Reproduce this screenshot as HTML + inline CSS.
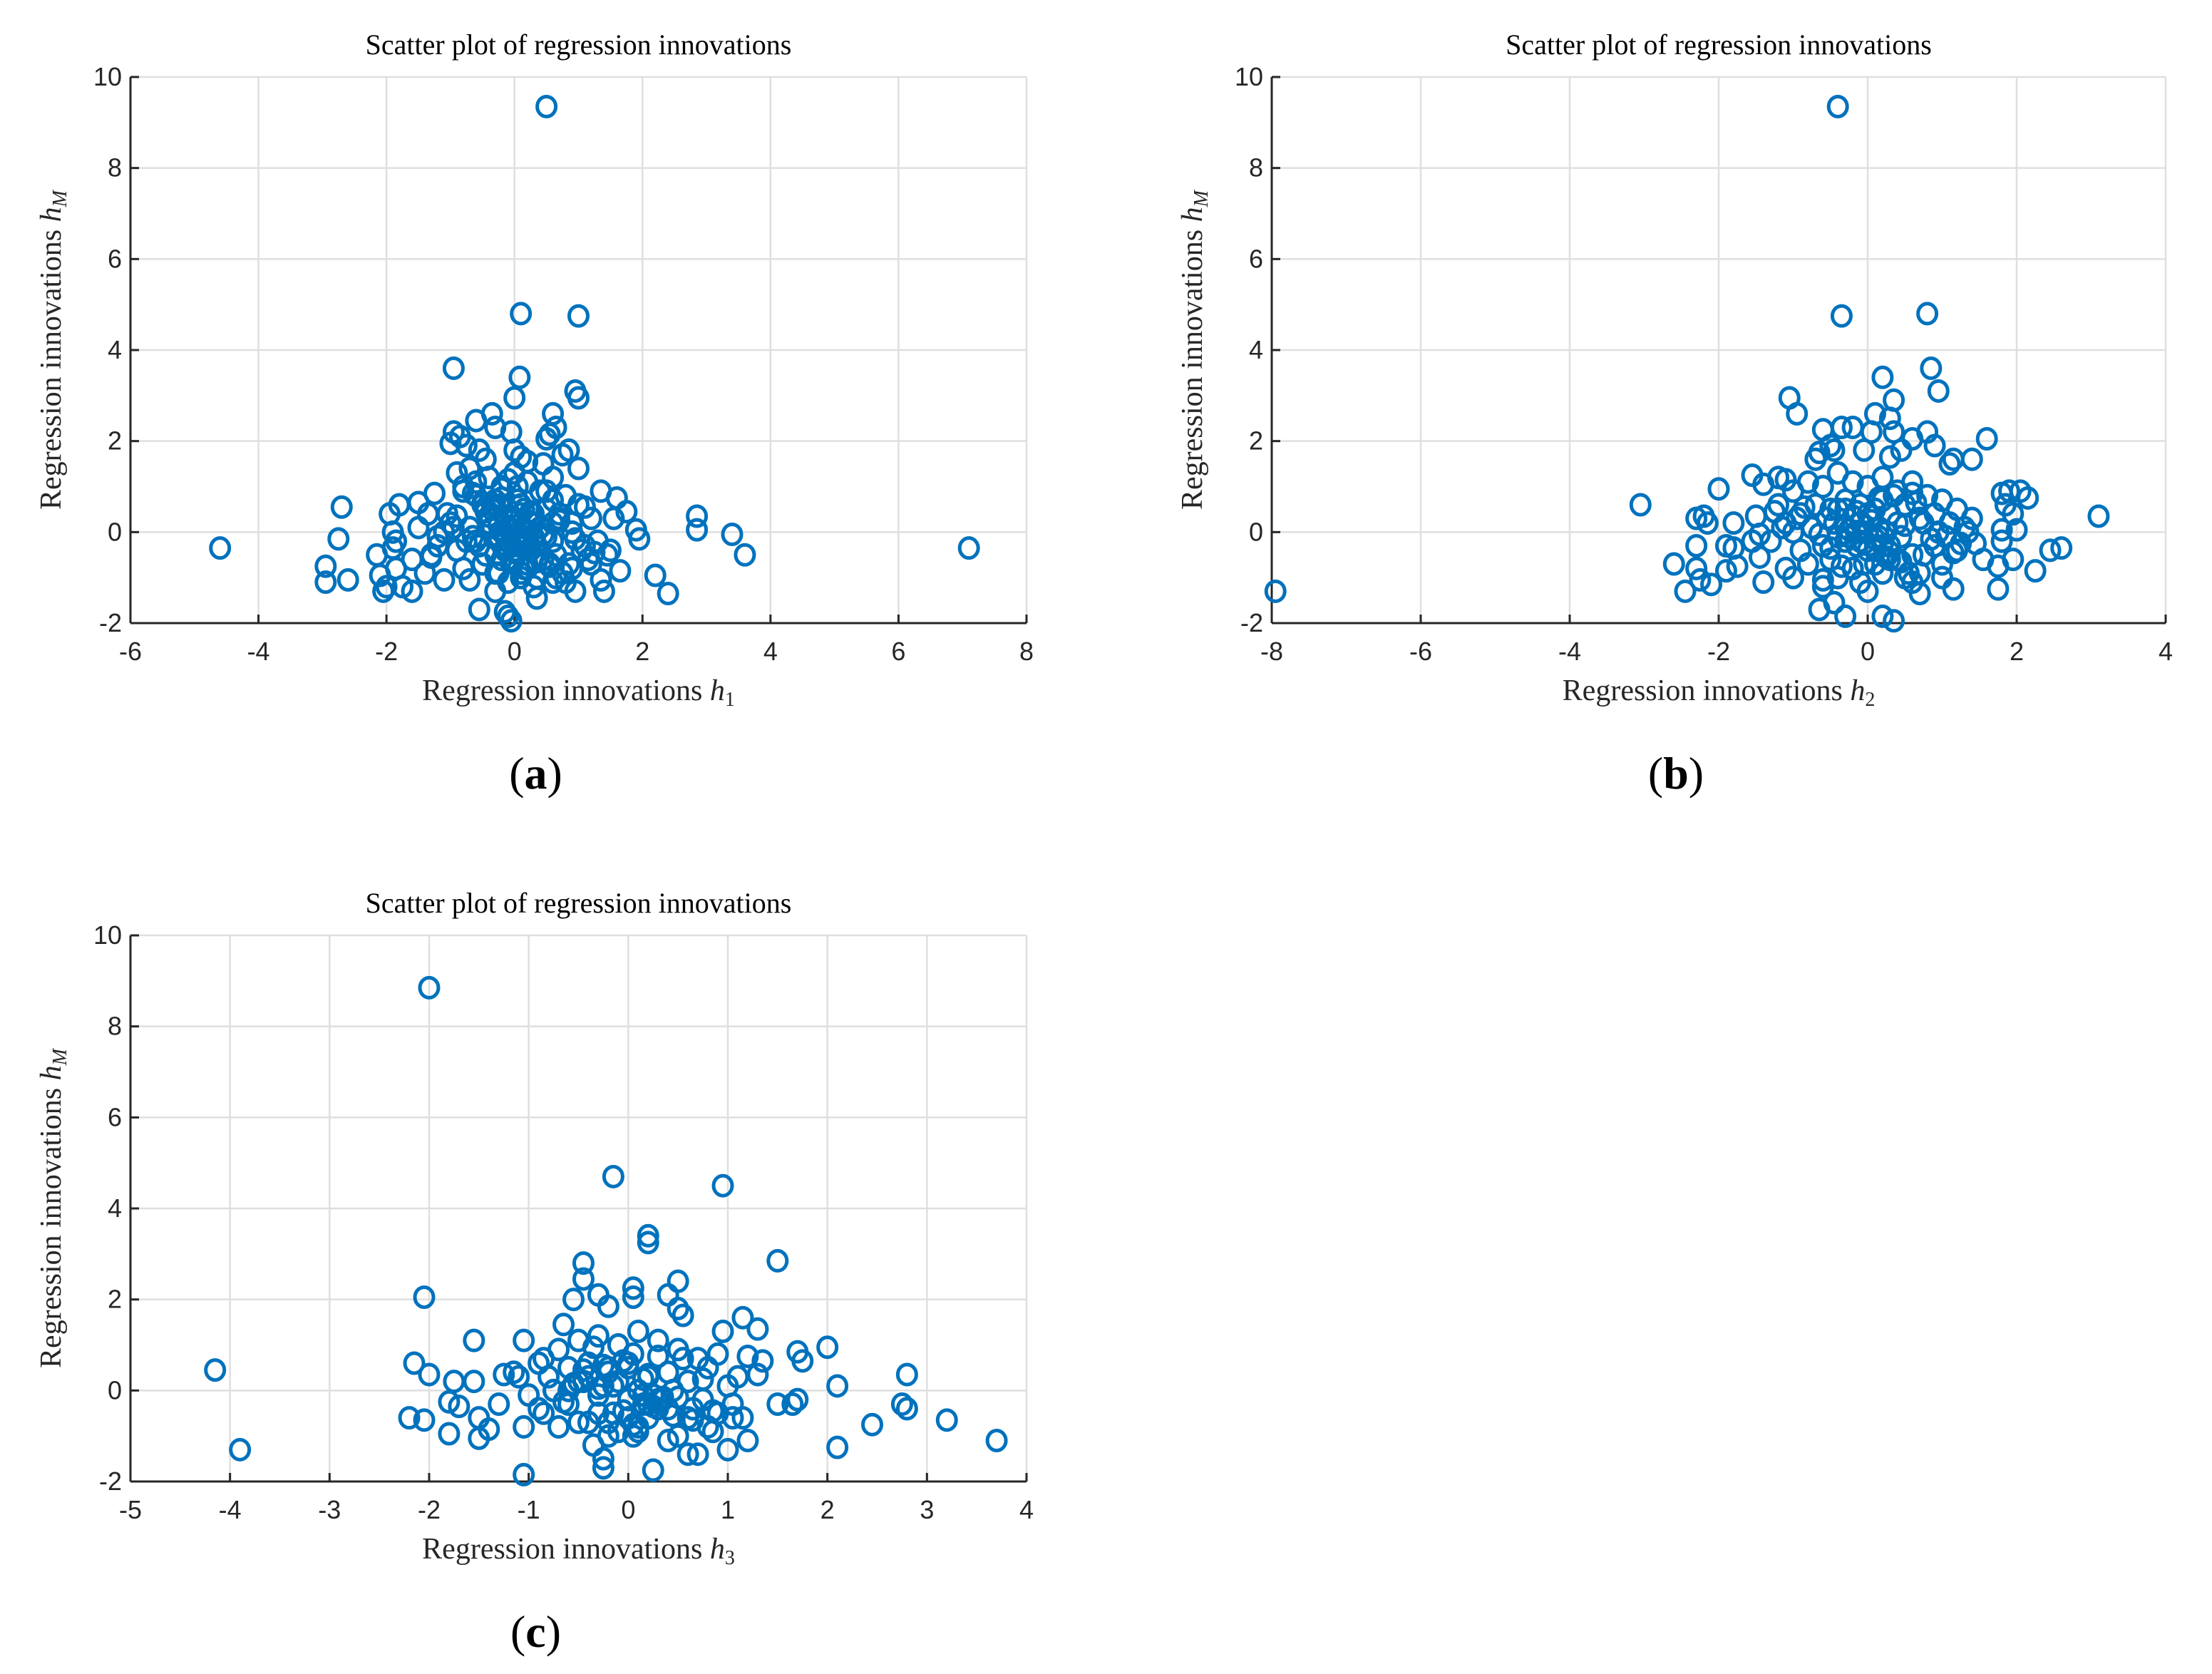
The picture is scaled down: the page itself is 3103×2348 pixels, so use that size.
<!DOCTYPE html>
<html><head><meta charset="utf-8">
<style>
html,body{margin:0;padding:0;background:#fff;}
svg{display:block;}
</style></head>
<body>
<svg id="fig" width="3103" height="2348" viewBox="0 0 3103 2348" xmlns="http://www.w3.org/2000/svg"></svg>
<script>
// ---- data: plot (a) h1 vs hM ----
const aX = [0.5,0.1,1,-0.95,0.08,0,0.95,1,0.6,0.65,0.55,0.5,-0.6,-0.35,-0.3,-0.05,-0.95,-0.85,-1,-0.75,0.85,0.75,-0.55,-0.45,0,0.1,0.2,0.45,1,-0.9,-0.7,1.35,1.6,1.75,1.55,1.9,1.95,1.65,2.2,2.4,2.85,2.85,3.4,3.6,7.1,-4.6,-2.7,-2.75,-2.95,-2.95,-2.6,-2.1,-2.05,-2,-2.15,-1.95,-1.8,-1.9,-1.85,-1.9,-1.85,-1.6,-1.6,-1.75,-1.5,-1.25,-1.35,-1.3,-1.4,-1.1,-0.55,-0.15,-0.05,-0.1,0.35,0.95,1.4,1.35,0.6,-0.3,-0.7,
 -0.8,-0.6,-0.4,-0.2,0,0.2,0.4,0.6,0.8,1.0,1.2,-1.0,-0.5,-0.3,-0.1,0.1,0.3,0.5,0.7,0.9,-0.7,-0.4,-0.2,0,0.2,0.4,0.6,0.9,1.1,1.3,-1.2,-0.9,-0.6,-0.3,0.05,0.25,0.45,0.65,0.85,1.05,-0.8,-0.5,-0.25,-0.05,0.15,0.35,0.55,0.75,1.15,1.45,-1.1,-0.65,-0.35,-0.15,0.1,0.3,0.5,0.7,-0.45,-0.2,0,0.2,0.4,-0.3,-0.1,0.1,0.3,-0.6,0.6,-1.5,1.5,-1.2,1.2,-0.9,0.9,-0.2,0.15,
 -0.1,0.05,0.15,-0.25,0.3,-0.05,0.1,-0.15,0.25,-0.35,0.4,0.0,0.2,-0.2,0.35,-0.4,0.5,-0.1,0.1,0.0,-0.3,0.3,-0.5,0.55,-0.15,0.15,0.05,-0.05,0.45,-0.45,0.65,-0.65,0.25,-0.25,0.0,0.1,-0.1,0.2,-0.2,0.35,-0.35,0.8,-0.8,0.7,-0.75,1.1,-1.05,1.25,-1.3,0.95,-0.95,0.6,-0.55,0.05,-0.05,0.15,-0.15];
const aY = [9.35,4.8,4.75,3.6,3.4,2.95,3.1,2.95,2.6,2.3,2.15,2.05,2.45,2.6,2.3,2.2,2.2,2.1,1.95,1.9,1.8,1.7,1.8,1.6,1.8,1.65,1.55,1.5,1.4,1.3,1.4,0.9,0.75,0.45,0.3,0.05,-0.15,-0.85,-0.95,-1.35,0.35,0.05,-0.05,-0.5,-0.35,-0.35,0.55,-0.15,-0.75,-1.1,-1.05,-0.95,-1.3,-1.2,-0.5,0.4,0.6,0,-0.2,-0.35,-0.8,-0.6,-1.3,-1.2,0.65,0.85,0.4,-0.5,-0.9,-1.05,-1.7,-1.75,-1.95,-1.85,-1.45,-1.3,-1.3,-1.05,-1.1,-1.3,-1.05,
 0.9,1.1,1.2,1.0,1.3,1.1,0.9,1.2,0.8,0.6,0.3,0.2,0.6,0.7,0.5,0.6,0.4,0.5,0.3,0.2,0.1,0.2,0.0,0.3,-0.1,0.1,-0.2,0.0,-0.3,-0.2,-0.3,-0.4,-0.2,-0.5,-0.3,-0.4,-0.6,-0.5,-0.7,-0.4,-0.8,-0.7,-0.9,-0.6,-0.8,-1.0,-0.7,-0.9,-0.6,-0.5,0.0,-0.1,0.1,0.0,-0.2,0.2,-0.1,0.4,-0.5,-0.6,-0.4,-0.7,-0.5,-0.9,-1.1,-1.0,-1.2,0.8,0.7,0.1,-0.4,-0.1,-0.7,0.35,-0.8,0.6,0.5,-0.35,-0.15,
 0.0,0.15,-0.1,0.25,-0.2,-0.35,0.45,0.6,-0.5,0.05,-0.25,0.75,-0.65,0.35,0.9,0.1,-0.9,-0.45,0.55,-0.15,0.65,-0.75,0.15,-0.3,1.0,0.3,-0.05,0.45,-1.0,0.85,0.2,-0.1,-0.6,0.4,1.15,-0.8,0.95,-0.3,0.5,-1.1,1.0,0.25,-0.2,0.55,0.4,-0.45,-0.55,-0.15,0.1,0.2,-0.3,0.7,0.05,-0.25,-0.4];
// ---- data: plot (b) h2 vs hM ----
const bX = [-0.4,-0.35,0.8,0.85,0.95,0.2,0.35,-1.05,-0.95,-0.6,-0.35,-0.2,0.1,0.3,0.35,0.05,0.6,0.8,0.9,1.6,-0.5,-0.45,-0.7,-0.65,-0.05,0.3,0.45,1.15,1.4,1.1,-1.55,-1.4,-1.2,-1.1,-2,-3.05,-7.95,-2.6,-2.3,-2.2,-2.15,-1.8,-2.3,-2.3,-2.25,-2.1,-2.45,-1.9,-1.8,-1.75,-1.9,-1.5,-1.45,-1.55,-1.45,-1.4,-0.65,-0.3,0.2,0.35,-0.45,0.7,1.75,1.15,1.8,1.9,2.05,2.15,1.85,1.95,1.8,1.8,1.95,2,2.25,2.45,2.6,3.1,1.75,1.55,1.45,
 -1.2,-1.0,-0.8,-0.6,-0.4,-0.2,0,0.2,0.4,0.6,0.8,1.0,1.2,1.4,-1.1,-0.9,-0.7,-0.5,-0.3,-0.1,0.1,0.3,0.5,0.7,0.9,1.1,1.3,-1.3,-1.0,-0.75,-0.45,-0.15,0.15,0.45,0.75,1.05,1.35,-0.9,-0.6,-0.3,0,0.3,0.6,0.9,1.2,-1.1,-0.8,-0.5,-0.2,0.1,0.4,0.7,1.0,-0.4,-0.1,0.2,0.5,-0.6,0.0,0.6,-0.25,0.25,-1.0,1.0,
 0.0,0.1,-0.1,0.2,-0.2,0.3,-0.3,0.4,-0.4,0.05,-0.05,0.15,-0.15,0.25,-0.25,0.35,-0.35,0.5,-0.5,0.55,-0.55,0.65,-0.65,0.75,-0.75,0.0,0.1,-0.1,0.2,-0.2,0.45,-0.45,0.85,-0.85,0.95,-0.95,1.15,-1.15,1.25,-1.25,0.3,-0.3,0.6,-0.6,0.05,-0.05,0.15,-0.15,0.4,-0.4];
const bY = [9.35,4.75,4.8,3.6,3.1,3.4,2.9,2.95,2.6,2.25,2.3,2.3,2.6,2.5,2.2,2.2,2.05,2.2,1.9,2.05,1.9,1.8,1.6,1.75,1.8,1.65,1.8,1.6,1.6,1.5,1.25,1.05,1.2,1.15,0.95,0.6,-1.3,-0.7,0.3,0.35,0.2,0.2,-0.3,-0.8,-1.05,-1.15,-1.3,-0.3,-0.35,-0.75,-0.85,0.35,-0.05,-0.2,-0.55,-1.1,-1.7,-1.85,-1.85,-1.95,-1.55,-1.35,-1.25,-1.25,0.85,0.9,0.9,0.75,0.6,0.4,0.05,-0.2,-0.6,0.05,-0.85,-0.4,-0.35,0.35,-0.75,-0.6,-0.25,
 0.6,0.9,1.1,1.0,1.3,1.1,1.0,1.2,0.9,1.1,0.8,0.7,0.5,0.3,0.2,0.4,0.6,0.5,0.7,0.6,0.5,0.4,0.6,0.3,0.4,0.2,0.1,-0.2,0.0,0.1,0.2,0.0,0.1,-0.1,0.2,-0.1,0.0,-0.4,-0.3,-0.2,-0.4,-0.3,-0.5,-0.3,-0.4,-0.8,-0.7,-0.6,-0.8,-0.7,-0.6,-0.9,-0.7,-1.0,-1.1,-0.9,-1.0,-1.2,-1.3,-1.1,-0.1,0.0,-1.0,-1.0,
 0.0,-0.15,0.2,-0.3,0.35,-0.45,0.1,-0.6,0.5,0.25,-0.25,-0.1,0.45,-0.55,0.05,0.8,-0.75,0.15,-0.35,-0.9,0.3,0.65,-0.05,-0.5,0.1,0.4,-0.4,-0.2,0.7,-0.8,-0.65,0.2,-0.15,0.55,0.0,0.3,-0.45,0.1,-0.25,0.45,-0.6,0.5,0.85,-1.05,0.35,-0.7,0.75,-0.3,0.2,-0.1];
// ---- data: plot (c) h3 vs hM ----
const cX = [-2,-0.15,0.95,0.2,0.2,1.5,-0.45,-0.45,0.5,-0.3,0.05,0.05,-2.05,-0.55,-0.2,0.4,0.5,0.55,1.15,1.3,0.95,-0.65,-1.55,-1.05,-4.15,-3.9,-2.15,-2,-2.2,-2.05,-1.8,-1.75,-1.55,-1.7,-1.8,-1.5,-1.5,-1.4,-1.05,0.25,-0.25,-0.25,0.6,0.7,1,1.2,1.05,1.3,1.35,1.2,1.7,1.75,2,2.1,1.5,1.65,1.7,2.1,2.45,2.75,2.8,2.8,3.2,3.7,-1.25,-1.3,-1.05,-1.1,
 -0.9,-0.7,-0.5,-0.3,-0.1,0.1,0.3,0.5,0.7,0.9,1.1,-0.8,-0.6,-0.4,-0.2,0,0.2,0.4,0.6,0.8,1.0,-1.0,-0.75,-0.45,-0.15,0.15,0.45,0.75,1.05,-0.9,-0.6,-0.3,0,0.3,0.6,0.9,-0.7,-0.4,-0.1,0.2,0.5,0.8,-0.5,-0.2,0.1,0.4,-0.35,0.05,0.35,-0.6,0.65,-0.85,0.85,-0.25,0.25,-1.15,1.15,
 -0.3,-0.2,-0.1,0.0,0.1,0.2,0.3,-0.25,-0.15,-0.05,0.05,0.15,0.25,-0.35,0.35,-0.45,0.45,-0.55,0.55,-0.65,0.65,-0.4,0.4,-0.1,0.1,-0.2,0.2,0.0,-0.3,0.3,-0.75,0.75,-0.85,0.85,-0.5,0.5,-0.05,0.05,-0.15,0.15];
const cY = [8.85,4.7,4.5,3.4,3.25,2.85,2.8,2.45,2.4,2.1,2.25,2.05,2.05,2,1.85,2.1,1.8,1.65,1.6,1.35,1.3,1.45,1.1,1.1,0.45,-1.3,0.6,0.35,-0.6,-0.65,-0.25,0.2,0.2,-0.35,-0.95,-0.6,-1.05,-0.85,-1.85,-1.75,-1.5,-1.7,-1.4,-1.4,-1.3,-1.1,-0.6,0.35,0.65,0.75,0.85,0.65,0.95,0.1,-0.3,-0.3,-0.2,-1.25,-0.75,-0.3,-0.4,0.35,-0.65,-1.1,0.35,-0.3,-0.8,0.3,
 0.6,0.9,1.1,1.2,1.0,1.3,1.1,0.9,0.7,0.8,0.3,0.3,0.5,0.6,0.4,0.5,0.3,0.4,0.2,0.5,0.1,-0.1,0.0,0.2,0.1,-0.1,0.0,-0.2,-0.3,-0.4,-0.3,-0.5,-0.2,-0.4,-0.6,-0.5,-0.8,-0.7,-0.9,-0.6,-1.0,-0.8,-0.7,-1.0,-0.9,-1.1,-1.2,-1.0,-0.2,0.0,-0.4,0.7,-0.9,0.1,-0.1,0.4,-0.6,-0.1,-0.7,
 0.2,0.6,0.0,0.35,-0.2,0.55,0.1,-0.45,0.8,0.25,-0.35,0.95,-0.15,0.45,-0.55,0.15,0.7,-0.25,-0.65,0.3,-0.4,1.0,-0.8,0.5,-0.3,-0.6,0.05,0.75,0.0,0.25,-0.5,-0.45,0.2,-0.15,0.65,-0.75,-0.5,-0.3,0.4,0.15];

const xTicksA=[-6,-4,-2,0,2,4,6,8];
const xTicksB=[-8,-6,-4,-2,0,2,4];
const xTicksC=[-5,-4,-3,-2,-1,0,1,2,3,4];
const yTicks=[-2,0,2,4,6,8,10];

const NS="http://www.w3.org/2000/svg";
const svg=document.getElementById('fig');
function mk(tag,attrs,parent){const e=document.createElementNS(NS,tag);for(const k in attrs)e.setAttribute(k,attrs[k]);(parent||svg).appendChild(e);return e;}

function panel(id,L,R,T,B,xTicks,xs,ys,sub,letter){
  const g=mk('g',{});
  
  
  const x0=xTicks[0],x1=xTicks[xTicks.length-1];
  const sx=v=>L+(v-x0)/(x1-x0)*(R-L);
  const sy=v=>B-(v-(-2))/(12)*(B-T);
  xTicks.forEach(t=>{const l=mk('line',{x1:sx(t),x2:sx(t),y1:T,y2:B,stroke:'#dfdfdf','stroke-width':2.5},g);
    });
  yTicks.forEach(t=>{const l=mk('line',{x1:L,x2:R,y1:sy(t),y2:sy(t),stroke:'#dfdfdf','stroke-width':2.5},g);
    });
  const ax=mk('line',{x1:L,x2:R,y1:B,y2:B,stroke:'#262626','stroke-width':3},g);
  
  const ay=mk('line',{x1:L,x2:L,y1:T,y2:B,stroke:'#262626','stroke-width':3},g);
  
  xTicks.forEach(t=>{mk('line',{x1:sx(t),x2:sx(t),y1:B,y2:B-12,stroke:'#262626','stroke-width':3},g);
    const tx=mk('text',{x:sx(t),y:B+52,'text-anchor':'middle','font-family':'Liberation Sans, sans-serif','font-size':36,fill:'#262626'},g);
    tx.textContent=t;});
  yTicks.forEach(t=>{mk('line',{x1:L,x2:L+12,y1:sy(t),y2:sy(t),stroke:'#262626','stroke-width':3},g);
    const tx=mk('text',{x:L-12,y:sy(t)+12,'text-anchor':'end','font-family':'Liberation Sans, sans-serif','font-size':36,fill:'#262626'},g);
    tx.textContent=t;});
  for(let i=0;i<xs.length;i++){
    const c=mk('ellipse',{cx:sx(xs[i]),cy:sy(ys[i]),rx:13,ry:14,fill:'none',stroke:'#0072BD','stroke-width':5},g);
    
    
  }
  const cx=(L+R)/2;
  const ti=mk('text',{x:cx,y:T-32,'text-anchor':'middle','font-family':'Liberation Serif, serif','font-size':40,fill:'#000'},g);
  ti.textContent='Scatter plot of regression innovations';
  
  const xl=mk('text',{x:cx,y:B+108,'text-anchor':'middle','font-family':'Liberation Serif, serif','font-size':42,fill:'#262626'},g);
  xl.innerHTML='Regression innovations <tspan font-style="italic">h</tspan><tspan font-size="28" dy="8">'+sub+'</tspan>';
  
  const ym=(T+B)/2, yx=L-98;
  const yl=mk('text',{x:yx,y:ym,'text-anchor':'middle','font-family':'Liberation Serif, serif','font-size':42,fill:'#262626',transform:'rotate(-90 '+yx+' '+ym+')'},g);
  yl.innerHTML='Regression innovations <tspan font-style="italic">h</tspan><tspan font-size="28" font-style="italic" dy="8">M</tspan>';
  
  const pl=mk('text',{x:cx-60,y:B+232,'text-anchor':'middle','font-family':'Liberation Serif, serif','font-size':64,fill:'#000'},g);
  pl.innerHTML='(<tspan font-weight="bold">'+letter+'</tspan>)';
  
}
panel('a',183,1440,108,874,xTicksA,aX,aY,'1','a');
panel('b',1784,3038,108,874,xTicksB,bX,bY,'2','b');
panel('c',183,1440,1312,2078,xTicksC,cX,cY,'3','c');
</script>
</body></html>
